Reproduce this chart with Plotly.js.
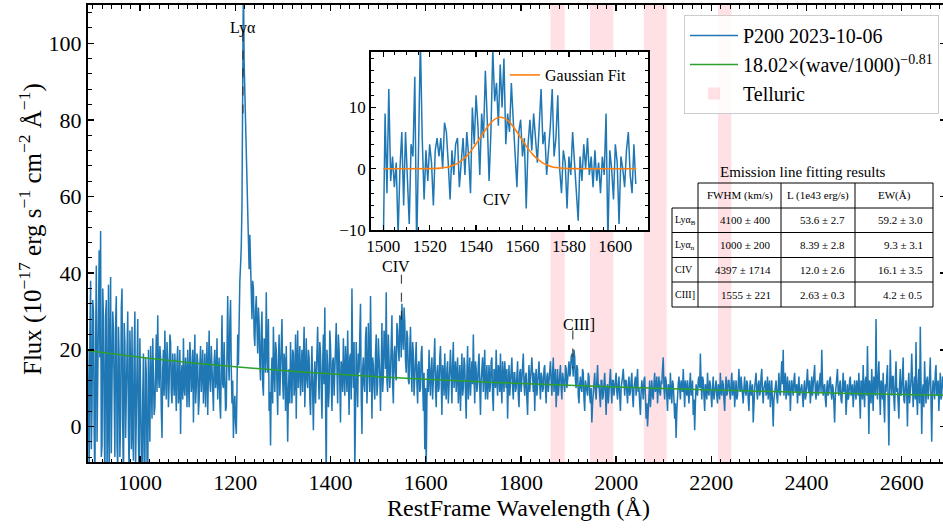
<!DOCTYPE html>
<html><head><meta charset="utf-8">
<script src="https://cdn.plot.ly/plotly-3.0.1.min.js"></script>
<style>html,body{margin:0;padding:0;overflow:hidden;background:#fff}</style>
</head><body><div id="chart" style="width:947px;height:529px"></div>
<script>
// ---------------- DATA ----------------
const specStart = 890;
const specStep = 1.5;
const specFlux = [
20,3,-12,24,38,-6,5,33,30,-2,-15,22,42,-4,10,35,46,18,51,-8,-5,36,28,1,-14,29,33,-11,2,37,-18,21,39,-7,8,30,25,-3,-8,27,
34,-5,-11,26,18,-8,2,31,36,0,-16,27,22,-3,9,24,30,-1,-13,25,16,-6,26,-2,-9,20,30,-10,4,17,28,-4,-14,23,12,-15,-20,8,19,-9,
-12,18,14,-9,-15,20,8,-4,21,12,2,23,16,3,5,19,24,9,29,14,10,21,18,4,-3,15,20,8,25,13,7,22,17,5,11,24,22,9,6,19,
15,8,19,11,4,17,21,6,9,20,-2,13,16,7,23,10,8,18,14,5,20,12,5,22,18,9,12,20,1,15,24,6,10,19,17,3,7,16,21,9,
13,20,6,15,19,5,11,22,3,14,25,12,9,21,16,7,4,17,20,10,12,23,7,14,18,6,2,16,29,11,10,22,15,4,5,20,34,18,12,27,
33,15,6,12,-3,5,8,1,-2,10,24,16,33,38,42,47,58,112,118,95,88,76,72,62,54,47,41,50,43,33,28,38,36,24,21,30,34,26,19,31,
27,16,12,25,30,11,8,23,22,14,35,19,14,28,4,9,-5,12,18,6,26,15,9,22,20,11,3,17,24,8,13,21,28,12,7,19,17,4,21,10,
-4,9,15,6,22,13,6,20,19,8,11,24,2,17,25,10,14,21,8,16,20,9,16,26,5,15,23,12,10,20,18,7,3,14,21,9,-1,12,17,6,
12,19,26,14,7,22,19,10,2,16,24,11,31,8,-14,20,16,5,9,25,21,12,4,17,18,8,13,22,27,15,6,24,20,11,1,17,15,9,23,13,
8,21,17,9,25,14,3,18,19,7,36,16,10,22,-12,4,22,13,5,19,14,24,32,8,-2,15,18,11,9,23,26,6,12,27,20,9,34,15,2,18,
16,10,7,19,24,8,11,23,19,13,4,21,27,9,13,25,22,15,35,12,9,24,18,10,14,22,29,11,6,19,21,14,12,27,25,20,17,29,28,18,
32,24,20,31,27,17,14,25,23,12,11,20,26,15,9,22,19,8,13,18,22,11,6,16,17,9,10,19,21,12,4,14,-6,10,-11,7,15,9,20,13,
8,15,18,7,12,19,23,10,5,14,16,9,10,18,21,12,3,16,14,8,19,11,7,15,17,6,11,19,20,13,6,16,22,10,13,17,9,14,18,6,
12,16,4,13,19,8,10,18,16,9,2,14,21,7,13,18,8,15,17,11,24,13,6,17,15,9,11,16,19,10,3,12,14,18,9,15,20,7,12,16,
7,13,16,9,11,17,18,8,4,15,14,10,20,12,8,16,15,9,19,11,6,17,13,9,17,12,10,15,2,11,16,8,12,16,18,10,7,14,14,9,
10,13,17,8,5,14,15,9,12,16,19,11,8,13,14,7,3,12,16,9,11,15,18,10,9,14,4,12,15,8,12,16,17,11,7,14,13,9,10,15,
16,10,6,13,14,9,11,15,17,12,8,14,18,9,12,15,5,11,15,8,10,13,16,10,7,14,13,11,9,16,15,10,12,15,17,13,14,18,19,16,
13,20,18,12,10,16,15,8,6,11,13,10,9,15,14,7,4,12,11,9,8,14,13,8,6,10,1,6,10,13,14,9,7,12,16,10,11,8,5,12,
12,7,8,11,14,9,3,10,11,6,9,13,15,10,6,12,12,8,10,13,14,9,7,11,13,8,4,10,11,13,15,9,8,12,12,9,6,11,13,8,
9,12,14,8,5,10,11,13,8,11,15,9,10,6,3,9,12,10,7,12,13,8,2,6,0,4,9,12,5,9,12,8,7,11,14,9,10,13,6,10,
13,9,8,12,11,15,18,10,7,13,12,8,4,11,10,7,14,9,6,12,11,7,2,6,-3,4,9,11,13,8,7,12,11,9,15,10,5,12,10,8,
12,9,6,11,14,8,9,12,3,7,-1,6,11,9,8,12,13,10,19,11,7,13,12,8,4,11,10,7,14,9,8,12,11,8,5,10,13,7,9,12,
12,8,6,11,10,7,14,9,8,12,11,7,4,10,13,8,9,12,12,9,7,11,14,8,10,12,5,9,12,7,8,11,15,10,9,13,11,8,6,10,
13,9,8,12,11,7,4,10,12,8,9,11,1,7,10,12,14,9,7,11,12,8,9,13,15,9,6,10,11,12,8,9,13,7,10,12,5,9,12,6,
0,7,9,11,12,8,6,10,14,9,8,13,17,11,20,8,11,14,7,10,13,8,9,12,4,9,12,10,8,12,14,9,10,11,6,10,13,8,9,11,
11,8,5,10,12,7,8,12,15,10,9,12,6,9,13,8,10,12,16,9,7,11,12,8,9,12,14,9,20,12,8,10,11,7,5,10,12,8,9,12,
13,9,7,11,10,6,1,8,11,12,15,9,8,11,12,7,6,10,14,9,10,12,3,9,11,7,8,12,13,8,9,11,5,10,12,9,7,12,10,8,
14,8,2,12,11,7,16,9,5,12,13,8,21,10,-2,12,10,6,15,9,4,13,12,8,28,11,7,13,17,9,3,12,11,7,14,6,1,11,9,13,
16,6,-5,9,20,11,8,13,13,7,4,12,17,9,10,6,2,11,15,8,9,13,18,7,6,10,12,9,0,11,14,6,8,12,19,9,5,10,13,7,
22,8,3,11,15,6,26,12,-2,9,11,5,17,11,6,12,13,7,9,13,18,6,-4,9,12,10,7,14,16,8,10,12,4,11,14,7,8,13,12,9,
9,11,15
];
const plWave = [890,1000,1100,1200,1300,1400,1500,1600,1700,1800,1900,2000,2100,2200,2300,2400,2500,2600,2700];
const plFlux = [19.80,18.02,16.68,15.55,14.57,13.72,12.97,12.32,11.72,11.19,10.71,10.28,9.88,9.51,9.18,8.87,8.58,8.31,8.06];

const insetStart = 1500;
const insetStep = 0.8;
const insetFlux = [
-14,9,-4,13,-2,2,-3,1,-11,0,
6,-6,6,-2,-9,4,2,15,-13,3,
21,5,-5,3,-2,4,1,-6,3,5,
2,5,0,7.5,6,1,-5,3,-1,4,
5,-3,2,5,-1,6,2,-4,10,4,
12,7,-1,9,5,16,8,-2,6,19.5,
11,14,7,17,10,18,4,9,6,14,
8,3,-3,6,8,2,5,-6.5,4,8,
3,9,5,1,7,13,4,6,-1,3,
7,13,2,5,12,0,-4,3,1,-6.5,
2,-1,6,1,-3,-8.5,2,-2,4,0,
5,-1,2,-3,3,-2,1,-4,2,-1,
9,-12,3,0,-5,4,1,-9,2,0,
-3,3,6,-1,-4,4,-2.5
];
const gaussWave = [1500,1520.5,1522.5,1524.5,1526.5,1528.5,1530.5,1532.5,1534.5,1536.5,1538.5,1540.5,1542.5,1544.5,1546.5,1548.5,1550.5,1552.5,1554.5,1556.5,1558.5,1560.5,1562.5,1564.5,1566.5,1568.5,1570.5,1572.5,1574.5,1576.5,1578.5,1580.5,1609];
const gaussFlux = [0,0.02,0.05,0.10,0.19,0.34,0.60,0.99,1.55,2.30,3.24,4.34,5.50,6.62,7.56,8.18,8.40,8.18,7.56,6.62,5.50,4.34,3.24,2.30,1.55,0.99,0.60,0.34,0.19,0.10,0.05,0.02,0];

const telluricStart = [1862,1945,2058,2214];
const telluricEnd = [1892,1994,2106,2242];

const lineNames = ['Lyα','CIV','CIII]'];
const lineWaves = [1216,1549,1909];

const tableTitle = 'Emission line fitting results';
const tableHeader = ['FWHM (km/s)','L (1e43 erg/s)','EW(Å)'];
const tableRowLabels = ['Lyα<sub>B</sub>','Lyα<sub>n</sub>','CIV','CIII]'];
const fwhmCol = ['4100 ± 400','1000 ± 200','4397 ± 1714','1555 ± 221'];
const lumCol = ['53.6 ± 2.7','8.39 ± 2.8','12.0 ± 2.6','2.63 ± 0.3'];
const ewCol = ['59.2 ± 3.0','9.3 ± 3.1','16.1 ± 3.5','4.2 ± 0.5'];

const xTitle = 'RestFrame Wavelength (Å)';
const yTitle = 'Flux (10<sup>−17</sup> erg s<sup>−1</sup> cm<sup>−2</sup> Å<sup>−1</sup>)';

// ---------------- STYLE / POSITIONS ----------------
const FONT = 'Liberation Serif, Times New Roman, serif';
const W = 947, H = 529, ML = 88, MR = 1, MT = 5, MB = 67;
const PW = W - ML - MR, PH = H - MT - MB;
const px = v => (v - ML) / PW;
const py = v => (MT + PH - v) / PH;
const lineLabelPos = [
  {ty: 104.1, y0: 102.8, y1: 80.4, xs: 0},
  {ty: 41.7, y0: 39.6, y1: 25.5, xs: -5},
  {ty: 26.6, y0: 25.0, y1: 15.1, xs: 6}
];
const tblCols = [672, 698, 781, 855, 933];
const tblRows = [183, 208, 232.5, 257.5, 282, 307];

const traces = [
  {x0: specStart, dx: specStep, y: specFlux, type: 'scatter', mode: 'lines',
   name: 'P200 2023-10-06', line: {color: '#1f77b4', width: 1.5}, xaxis: 'x', yaxis: 'y'},
  {x: plWave, y: plFlux, type: 'scatter', mode: 'lines', line: {color: '#2ca02c', width: 1.5, shape: 'spline'},
   name: '18.02×(wave/1000)<sup>−0.81</sup>', xaxis: 'x', yaxis: 'y'},
  {x0: insetStart, dx: insetStep, y: insetFlux, type: 'scatter', mode: 'lines',
   line: {color: '#1f77b4', width: 1.5}, showlegend: false, xaxis: 'x2', yaxis: 'y2'},
  {x: gaussWave, y: gaussFlux, type: 'scatter', mode: 'lines', name: 'Gaussian Fit',
   line: {color: '#ff7f0e', width: 1.6, shape: 'spline'}, xaxis: 'x2', yaxis: 'y2', legend: 'legend2'}
];

const shapes = [];
const annotations = [];
telluricStart.forEach((s, i) => {
  shapes.push({type: 'rect', xref: 'x', yref: 'y domain', x0: s, x1: telluricEnd[i], y0: 0, y1: 1,
    fillcolor: 'rgba(255,182,193,0.42)', line: {width: 0}, layer: 'below',
    showlegend: i === 0, name: 'Telluric', legendgroup: 'tell'});
});
lineWaves.forEach((w, i) => {
  const p = lineLabelPos[i];
  shapes.push({type: 'line', xref: 'x', yref: 'y', x0: w, x1: w, y0: p.y0, y1: p.y1,
    line: {color: 'rgba(40,40,40,0.85)', width: 1.2, dash: 'dash'}, layer: 'above'});
  annotations.push({xref: 'x', yref: 'y', x: w, y: p.ty, xshift: p.xs, text: lineNames[i], showarrow: false,
    font: {family: FONT, size: 16, color: '#000'}, xanchor: 'center', yanchor: 'middle'});
});
annotations.push({xref: 'x2', yref: 'y2', x: lineWaves[1], y: -5, text: lineNames[1], showarrow: false,
  font: {family: FONT, size: 16, color: '#000'}, xanchor: 'center', yanchor: 'middle'});

// axis titles
annotations.push({xref: 'paper', yref: 'paper', x: px(518.5), y: py(508), text: xTitle, showarrow: false,
  font: {family: FONT, size: 24, color: '#000'}, xanchor: 'center', yanchor: 'middle'});
annotations.push({xref: 'paper', yref: 'paper', x: px(30), y: py(229), text: yTitle, showarrow: false, textangle: -90,
  font: {family: FONT, size: 25, color: '#000'}, xanchor: 'center', yanchor: 'middle'});

// table
const tl = {color: '#000', width: 1};
annotations.push({xref: 'paper', yref: 'paper', x: px((tblCols[0] + tblCols[4]) / 2), y: py(172), text: tableTitle,
  showarrow: false, font: {family: FONT, size: 15, color: '#000'}, xanchor: 'center', yanchor: 'middle'});
shapes.push({type: 'line', xref: 'paper', yref: 'paper', x0: px(tblCols[1]), x1: px(tblCols[4]), y0: py(tblRows[0]), y1: py(tblRows[0]), line: tl});
for (let r = 1; r < tblRows.length; r++) {
  shapes.push({type: 'line', xref: 'paper', yref: 'paper', x0: px(tblCols[0]), x1: px(tblCols[4]), y0: py(tblRows[r]), y1: py(tblRows[r]), line: tl});
}
shapes.push({type: 'line', xref: 'paper', yref: 'paper', x0: px(tblCols[0]), x1: px(tblCols[0]), y0: py(tblRows[1]), y1: py(tblRows[5]), line: tl});
for (let c = 1; c < tblCols.length; c++) {
  shapes.push({type: 'line', xref: 'paper', yref: 'paper', x0: px(tblCols[c]), x1: px(tblCols[c]), y0: py(tblRows[0]), y1: py(tblRows[5]), line: tl});
}
const tf = {family: FONT, size: 11, color: '#000'};
const tfl = {family: FONT, size: 10, color: '#000'};
tableHeader.forEach((h, c) => {
  annotations.push({xref: 'paper', yref: 'paper', x: px((tblCols[c + 1] + tblCols[c + 2]) / 2), y: py((tblRows[0] + tblRows[1]) / 2),
    text: h, showarrow: false, font: tf, xanchor: 'center', yanchor: 'middle'});
});
const cols = [fwhmCol, lumCol, ewCol];
tableRowLabels.forEach((lab, r) => {
  const yc = py((tblRows[r + 1] + tblRows[r + 2]) / 2);
  annotations.push({xref: 'paper', yref: 'paper', x: px(tblCols[0] + 1), y: yc, text: lab, showarrow: false, font: tfl, xanchor: 'left', yanchor: 'middle'});
  cols.forEach((col, c) => {
    annotations.push({xref: 'paper', yref: 'paper', x: px(tblCols[c + 2] - 8), y: yc, text: col[r], showarrow: false, font: tf, xanchor: 'right', yanchor: 'middle'});
  });
});

const axBase = {showline: true, linecolor: '#000', linewidth: 2, mirror: 'ticks', ticks: 'inside',
  tickcolor: '#000', showgrid: false, zeroline: false, automargin: false};
const layout = {
  width: W, height: H, margin: {l: ML, r: MR, t: MT, b: MB, autoexpand: false},
  paper_bgcolor: '#fff', plot_bgcolor: '#fff',
  font: {family: FONT, color: '#000'},
  xaxis: Object.assign({}, axBase, {range: [890.5, 2693], dtick: 200, tick0: 0, ticklen: 6, tickwidth: 1.5,
    minor: {ticks: 'inside', dtick: 20, ticklen: 3.5, tickwidth: 1, tickcolor: '#000'},
    tickfont: {family: FONT, size: 22}}),
  yaxis: Object.assign({}, axBase, {range: [-9.3, 110], dtick: 20, tick0: 0, ticklen: 6, tickwidth: 1.5,
    minor: {ticks: 'inside', dtick: 4, ticklen: 3.5, tickwidth: 1, tickcolor: '#000'},
    tickfont: {family: FONT, size: 22}}),
  xaxis2: Object.assign({}, axBase, {domain: [px(370.7), px(648.3)], anchor: 'y2', range: [1494.6, 1614.2],
    dtick: 20, tick0: 0, ticklen: 5, tickwidth: 1.3, linewidth: 1.5,
    minor: {ticks: 'inside', dtick: 5, ticklen: 3, tickwidth: 1, tickcolor: '#000'},
    tickfont: {family: FONT, size: 17}}),
  yaxis2: Object.assign({}, axBase, {domain: [py(230), py(51.7)], anchor: 'x2', range: [-10, 19.1],
    dtick: 10, tick0: 0, ticklen: 5, tickwidth: 1.3, linewidth: 1.5,
    minor: {ticks: 'inside', dtick: 2, ticklen: 3, tickwidth: 1, tickcolor: '#000'},
    tickfont: {family: FONT, size: 17}}),
  legend: {x: px(939), xanchor: 'right', y: py(15), yanchor: 'top', bgcolor: 'rgba(255,255,255,0.85)',
    bordercolor: '#cccccc', borderwidth: 1, font: {family: FONT, size: 20}, tracegroupgap: 0, itemwidth: 48},
  legend2: {x: px(505), xanchor: 'left', y: py(58), yanchor: 'top', bgcolor: 'rgba(255,255,255,0)',
    borderwidth: 0, font: {family: FONT, size: 16}},
  shapes: shapes,
  annotations: annotations
};
Plotly.newPlot('chart', traces, layout, {displayModeBar: false, staticPlot: true});
</script>
</body></html>
